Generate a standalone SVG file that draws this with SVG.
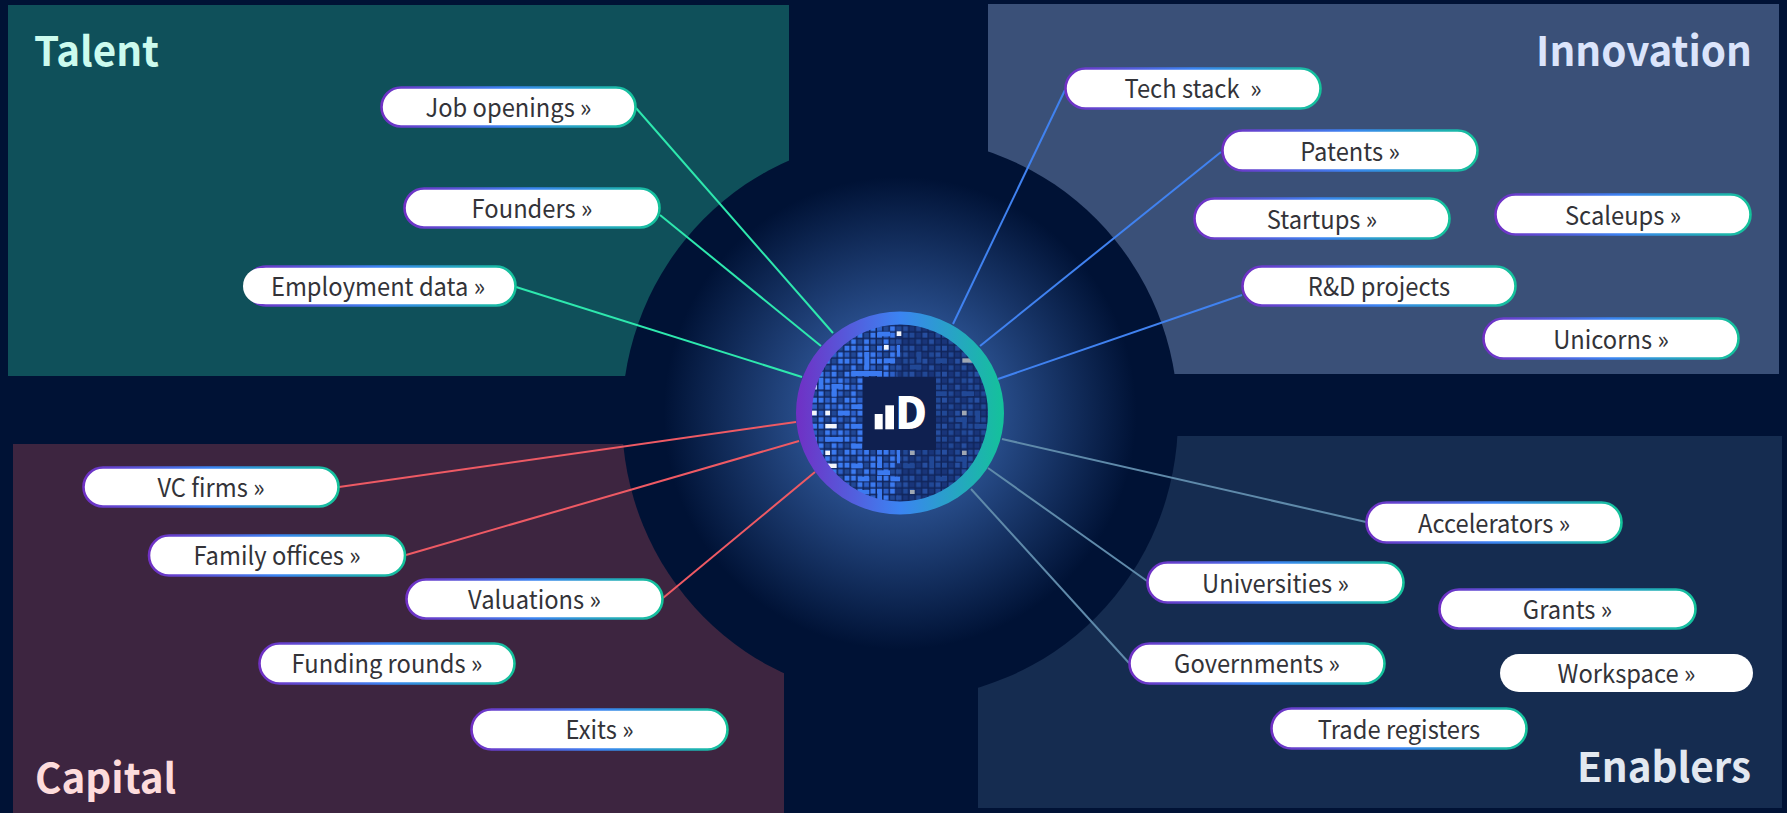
<svg xmlns="http://www.w3.org/2000/svg" width="1787" height="813" viewBox="0 0 1787 813">
<style>
text{font-family:"Noto Sans CJK JP","Noto Sans",sans-serif}
.pill{fill:#fff;stroke:url(#edge);stroke-width:2.6}
.label{font-size:25px;fill:#333338;text-anchor:middle;transform-box:fill-box;transform-origin:center;transform:translateY(1px) scaleX(.95)}
.title{font-size:41px;font-weight:700;transform-box:fill-box;transform-origin:left;transform:translateY(1px) scaleX(.985)}
.right{text-anchor:end;transform-origin:right}
.cn{fill:none;stroke-width:2}
.t{stroke:#2ee8ae}.i{stroke:#4082f0}.c{stroke:#ee5a64}.e{stroke:#5f8aaa}
.b{fill:#3b7af0}.d{fill:#214896}.w{fill:#f4f6fa}.g{fill:#a0a8b4}
</style>
<defs>
<linearGradient id="edge" x1="0" y1="0" x2="1" y2="0"><stop offset="0" stop-color="#7030c4"/><stop offset=".5" stop-color="#3b84f2"/><stop offset="1" stop-color="#14c29a"/></linearGradient>
<radialGradient id="glow" gradientUnits="userSpaceOnUse" cx="900" cy="413" r="278"><stop offset="0" stop-color="#2f5ca0"/><stop offset=".374" stop-color="#264a86"/><stop offset=".85" stop-color="#001235"/><stop offset="1" stop-color="#001235"/></radialGradient>
<clipPath id="chipClip"><circle cx="900" cy="413" r="89"/></clipPath>
<pattern id="patL" patternUnits="userSpaceOnUse" x="812" y="410.67" width="32.5" height="26">
<rect x="0" y="0" width="5" height="5" fill="#3b7af0"/><rect x="6.5" y="0" width="5" height="5" fill="#2c60c8"/><rect x="13" y="0" width="5" height="5" fill="#3b7af0"/><rect x="19.5" y="0" width="5" height="5" fill="#214896"/><rect x="26" y="0" width="5" height="5" fill="#3b7af0"/>
<rect x="0" y="6.5" width="5" height="5" fill="#214896"/><rect x="6.5" y="6.5" width="5" height="5" fill="#3b7af0"/><rect x="13" y="6.5" width="5" height="5" fill="#214896"/><rect x="19.5" y="6.5" width="5" height="5" fill="#3b7af0"/><rect x="26" y="6.5" width="5" height="5" fill="#2c60c8"/>
<rect x="0" y="13" width="5" height="5" fill="#3b7af0"/><rect x="6.5" y="13" width="5" height="5" fill="#3b7af0"/><rect x="13" y="13" width="5" height="5" fill="#2c60c8"/><rect x="19.5" y="13" width="5" height="5" fill="#3b7af0"/><rect x="26" y="13" width="5" height="5" fill="#214896"/>
<rect x="0" y="19.5" width="5" height="5" fill="#2c60c8"/><rect x="6.5" y="19.5" width="5" height="5" fill="#214896"/><rect x="13" y="19.5" width="5" height="5" fill="#3b7af0"/><rect x="19.5" y="19.5" width="5" height="5" fill="#2c60c8"/><rect x="26" y="19.5" width="5" height="5" fill="#3b7af0"/>
</pattern>
<pattern id="patR" patternUnits="userSpaceOnUse" x="812" y="410.67" width="32.5" height="26">
<rect x="0" y="0" width="5" height="5" fill="#214896"/><rect x="6.5" y="0" width="5" height="5" fill="#19357a"/><rect x="13" y="0" width="5" height="5" fill="#264ea0"/><rect x="19.5" y="0" width="5" height="5" fill="#19357a"/><rect x="26" y="0" width="5" height="5" fill="#214896"/>
<rect x="0" y="6.5" width="5" height="5" fill="#19357a"/><rect x="6.5" y="6.5" width="5" height="5" fill="#214896"/><rect x="13" y="6.5" width="5" height="5" fill="#19357a"/><rect x="19.5" y="6.5" width="5" height="5" fill="#264ea0"/><rect x="26" y="6.5" width="5" height="5" fill="#19357a"/>
<rect x="0" y="13" width="5" height="5" fill="#264ea0"/><rect x="6.5" y="13" width="5" height="5" fill="#19357a"/><rect x="13" y="13" width="5" height="5" fill="#214896"/><rect x="19.5" y="13" width="5" height="5" fill="#19357a"/><rect x="26" y="13" width="5" height="5" fill="#214896"/>
<rect x="0" y="19.5" width="5" height="5" fill="#19357a"/><rect x="6.5" y="19.5" width="5" height="5" fill="#214896"/><rect x="13" y="19.5" width="5" height="5" fill="#19357a"/><rect x="19.5" y="19.5" width="5" height="5" fill="#214896"/><rect x="26" y="19.5" width="5" height="5" fill="#264ea0"/>
</pattern>
</defs>
<rect width="1787" height="813" fill="#001235"/>
<g id="panels">
<rect x="8" y="5" width="781" height="371" fill="#0f505a"/>
<rect x="988" y="4" width="791" height="370" fill="#3a5078"/>
<rect x="13" y="444" width="771" height="369" fill="#3d2540"/>
<rect x="978" y="436" width="804" height="372" fill="#152c50"/>
</g>
<ellipse id="halo" cx="900" cy="418" rx="278" ry="281" fill="url(#glow)"/>
<text class="title" x="34" y="65" fill="#ccfbee">Talent</text>
<text class="title right" x="1752" y="65.500" fill="#dbe4fb">Innovation</text>
<text class="title" x="35" y="792.500" fill="#fddcdc">Capital</text>
<text class="title right" x="1751" y="781" fill="#e2e8f0">Enablers</text>
<g id="connectors">
<line class="cn t" x1="636" y1="108" x2="833" y2="333"/>
<line class="cn t" x1="660" y1="215" x2="821" y2="346"/>
<line class="cn t" x1="516" y1="287" x2="802" y2="377"/>
<line class="cn i" x1="1065" y1="90" x2="953" y2="324"/>
<line class="cn i" x1="1221" y1="152" x2="980" y2="346"/>
<line class="cn i" x1="1242" y1="295" x2="998" y2="379"/>
<line class="cn c" x1="339" y1="487" x2="796" y2="422"/>
<line class="cn c" x1="406" y1="555" x2="799" y2="441"/>
<line class="cn c" x1="663" y1="598" x2="815" y2="472"/>
<line class="cn e" x1="1366" y1="522" x2="1002" y2="439"/>
<line class="cn e" x1="1147" y1="581" x2="988" y2="468"/>
<line class="cn e" x1="1129" y1="663" x2="971" y2="489"/>
</g>
<g id="hub">
<circle cx="900" cy="413" r="90" fill="#10245a"/>
<g clip-path="url(#chipClip)">
<rect x="800" y="310" width="97.500" height="210" fill="url(#patL)"/>
<rect x="897.500" y="310" width="110" height="210" fill="url(#patR)"/>
<g transform="translate(780 290) scale(.33333)">
<rect class="b" x="292" y="125" width="38" height="14"/><rect class="b" x="253" y="186" width="15" height="52"/><rect class="b" x="214" y="243" width="92" height="15"/><rect class="b" x="155" y="282" width="33" height="14"/><rect class="b" x="155" y="282" width="15" height="38"/><rect class="b" x="174" y="362" width="35" height="14"/><rect class="b" x="214" y="343" width="32" height="14"/><rect class="b" x="214" y="402" width="32" height="14"/><rect class="b" x="214" y="461" width="32" height="15"/><rect class="b" x="136" y="441" width="52" height="14"/><rect class="b" x="116" y="263" width="14" height="34"/><rect class="b" x="312" y="205" width="33" height="14"/><rect class="b" x="292" y="500" width="14" height="34"/><rect class="b" x="214" y="521" width="34" height="14"/><rect class="b" x="292" y="541" width="38" height="14"/><rect class="b" x="234" y="560" width="34" height="14"/><rect class="b" x="332" y="560" width="28" height="14"/><rect class="b" x="234" y="600" width="34" height="13"/><rect class="b" x="292" y="600" width="14" height="30"/><rect class="b" x="351" y="165" width="9" height="35"/><rect class="b" x="351" y="480" width="9" height="40"/>
<rect class="d" x="468" y="205" width="32" height="14"/><rect class="d" x="410" y="185" width="14" height="33"/><rect class="d" x="390" y="224" width="34" height="14"/><rect class="d" x="448" y="500" width="14" height="35"/><rect class="d" x="370" y="521" width="34" height="14"/><rect class="d" x="468" y="560" width="32" height="14"/><rect class="d" x="547" y="304" width="35" height="14"/><rect class="d" x="586" y="362" width="14" height="35"/><rect class="d" x="586" y="402" width="34" height="14"/><rect class="d" x="527" y="382" width="33" height="14"/><rect class="d" x="547" y="382" width="13" height="33"/><rect class="d" x="527" y="500" width="33" height="15"/><rect class="d" x="547" y="500" width="13" height="34"/><rect class="d" x="468" y="304" width="32" height="14"/>
<rect class="w" x="350" y="124" width="14" height="14"/><rect class="w" x="312" y="165" width="14" height="14"/><rect class="w" x="96" y="362" width="14" height="14"/><rect class="w" x="136" y="362" width="14" height="14"/><rect class="w" x="136" y="402" width="34" height="13"/><rect class="w" x="136" y="482" width="14" height="13"/><rect class="w" x="143" y="521" width="27" height="13"/><rect class="w" x="100" y="285" width="10" height="13"/>
<rect class="g" x="547" y="205" width="33" height="13"/><rect class="g" x="546" y="362" width="14" height="14"/><rect class="g" x="546" y="482" width="14" height="13"/><rect class="g" x="390" y="482" width="14" height="13"/><rect class="g" x="390" y="600" width="14" height="12"/>
</g>
</g>
<rect x="863" y="377" width="73" height="73" fill="#0f2050"/>
<rect x="874.700" y="414" width="8" height="15.300" fill="#fff"/>
<rect x="885.300" y="405.300" width="8.700" height="24" fill="#fff"/>
<text x="895" y="429.300" font-size="44" font-weight="900" fill="#fff">D</text>
<path fill="url(#edge)" fill-rule="evenodd" d="M796 413a104 101.500 0 1 0 208 0a104 101.500 0 1 0-208 0ZM812 413a88 88.500 0 1 0 176 0a88 88.500 0 1 0-176 0Z"/>
</g>
<g id="n-job"><rect class="pill" x="381.500" y="87.500" width="254" height="39" rx="19.500"/><text class="label" x="508.500" y="116">Job openings »</text></g>
<g id="n-founders"><rect class="pill" x="404.500" y="188.500" width="255" height="39" rx="19.500"/><text class="label" x="532" y="217">Founders »</text></g>
<g id="n-employment"><rect class="pill" x="246.500" y="266.500" width="269" height="39" rx="19.500"/><rect x="243" y="268" width="150" height="36" rx="18" fill="#fff"/><text class="label" x="378" y="295">Employment data »</text></g>
<g id="n-tech"><rect class="pill" x="1065.500" y="68.500" width="255" height="40" rx="20"/><text class="label" x="1193" y="97.500" xml:space="preserve">Tech stack  »</text></g>
<g id="n-patents"><rect class="pill" x="1222.500" y="130.500" width="255" height="40" rx="20"/><text class="label" x="1350" y="160">Patents »</text></g>
<g id="n-startups"><rect class="pill" x="1194.500" y="198.500" width="255" height="40" rx="20"/><text class="label" x="1322" y="228">Startups »</text></g>
<g id="n-scaleups"><rect class="pill" x="1495.500" y="194.500" width="255" height="40" rx="20"/><text class="label" x="1623" y="224">Scaleups »</text></g>
<g id="n-rd"><rect class="pill" x="1242.500" y="266.500" width="273" height="39" rx="19.500"/><text class="label" x="1379" y="295">R&amp;D projects</text></g>
<g id="n-unicorns"><rect class="pill" x="1483.500" y="318.500" width="255" height="40" rx="20"/><text class="label" x="1611" y="348">Unicorns »</text></g>
<g id="n-vc"><rect class="pill" x="83.500" y="467.500" width="255" height="39" rx="19.500"/><text class="label" x="211" y="496">VC firms »</text></g>
<g id="n-family"><rect class="pill" x="149" y="535.500" width="256" height="40" rx="20"/><text class="label" x="277" y="564.500">Family offices »</text></g>
<g id="n-valuations"><rect class="pill" x="406.500" y="579.500" width="256" height="39" rx="19.500"/><text class="label" x="534.500" y="608">Valuations »</text></g>
<g id="n-funding"><rect class="pill" x="259.500" y="643.500" width="255" height="40" rx="20"/><text class="label" x="387" y="672.500">Funding rounds »</text></g>
<g id="n-exits"><rect class="pill" x="471.500" y="709.500" width="256" height="40" rx="20"/><text class="label" x="599.500" y="738.500">Exits »</text></g>
<g id="n-accel"><rect class="pill" x="1366.500" y="502.500" width="255" height="40" rx="20"/><text class="label" x="1494" y="532">Accelerators »</text></g>
<g id="n-univ"><rect class="pill" x="1147.500" y="562.500" width="256" height="40" rx="20"/><text class="label" x="1275.500" y="592">Universities »</text></g>
<g id="n-grants"><rect class="pill" x="1439.500" y="589.500" width="256" height="39" rx="19.500"/><text class="label" x="1567.500" y="618">Grants »</text></g>
<g id="n-gov"><rect class="pill" x="1129.500" y="643.500" width="255" height="40" rx="20"/><text class="label" x="1257" y="672.500">Governments »</text></g>
<g id="n-workspace"><rect x="1500" y="654" width="253" height="38" rx="19" fill="#fff"/><text class="label" x="1626.500" y="682">Workspace »</text></g>
<g id="n-trade"><rect class="pill" x="1271.500" y="708.500" width="255" height="40" rx="20"/><text class="label" x="1399" y="738">Trade registers</text></g>
</svg>
